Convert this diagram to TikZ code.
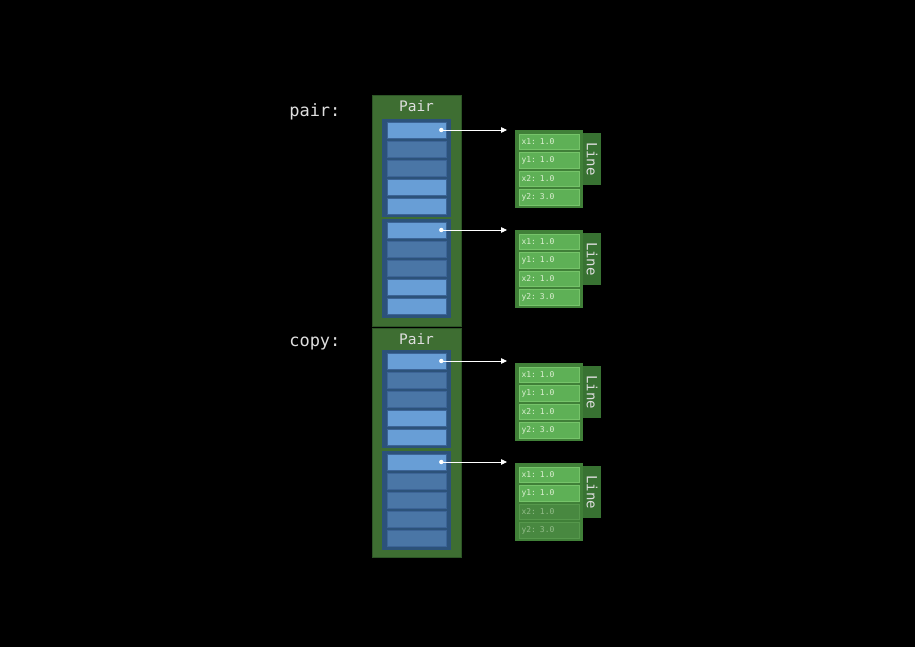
\documentclass[tikz,border=0pt]{standalone}
\usepackage{fontspec}
\setmonofont{DejaVu Sans Mono}
\usetikzlibrary{arrows.meta}

\definecolor{pairgreen}{RGB}{62,110,50}
\definecolor{pairedge}{RGB}{45,85,38}
\definecolor{groupblue}{RGB}{44,82,122}
\definecolor{rowlightblue}{RGB}{104,158,214}
\definecolor{rowdarkblue}{RGB}{74,118,166}
\definecolor{rowedge}{RGB}{60,100,150}
\definecolor{linegreen}{RGB}{64,128,56}
\definecolor{tabgreen}{RGB}{56,114,50}
\definecolor{fieldgreen}{RGB}{94,176,86}
\definecolor{fieldedge}{RGB}{118,196,106}
\definecolor{fadegreen}{RGB}{72,136,64}
\definecolor{fadeedge}{RGB}{86,152,76}
\definecolor{labelgray}{RGB}{222,222,222}
\definecolor{fieldtext}{RGB}{220,240,210}

\tikzset{
  box/.style={anchor=north west, inner sep=0pt, outer sep=0pt},
  pairbox/.style={box, fill=pairgreen, draw=pairedge, line width=0.8pt, minimum width=89pt},
  pairtitle/.style={text=labelgray, font=\ttfamily\fontsize{14.5}{14.5}\selectfont},
  groupbox/.style={box, fill=groupblue, minimum width=69pt},
  rowlight/.style={fill=rowlightblue, draw=rowedge, line width=0.6pt, minimum width=59pt, minimum height=16pt, inner sep=0pt},
  rowdark/.style={rowlight, fill=rowdarkblue},
  varlabel/.style={text=labelgray, anchor=east, font=\ttfamily\fontsize{17}{17}\selectfont},
  linebox/.style={box, fill=linegreen, minimum width=68pt, minimum height=78pt},
  linetab/.style={box, fill=tabgreen, minimum width=18pt, minimum height=52pt, text=labelgray,
    font=\ttfamily\fontsize{14}{14}\selectfont},
  field/.style={box, fill=fieldgreen, draw=fieldedge, line width=0.6pt, minimum width=60pt,
    minimum height=15.5pt, text width=55pt, inner xsep=2.5pt, align=left, text=fieldtext,
    font=\ttfamily\fontsize{8}{8}\selectfont},
  fieldfaded/.style={field, fill=fadegreen, draw=fadeedge, text=fieldtext!50!fadegreen},
  ptr/.style={draw=white, line width=0.8pt, -{Triangle[width=5.5pt,length=6pt]}},
}

\begin{document}
\begin{tikzpicture}[x=1pt,y=-1pt]
\useasboundingbox[fill=black] (0,0) rectangle (915,647);

% the two Pair values
\node[pairbox, minimum height=231pt] (pair) at (372,95) {};
\node[pairbox, minimum height=229pt] (copy) at (372,328) {};
\node[pairtitle] (pairtitle) at ([yshift=-11pt]pair.north) {Pair};
\node[pairtitle] (copytitle) at ([yshift=-11pt]copy.north) {Pair};
\node[varlabel] (pairlbl) at (344,112) {pair:};
\node[varlabel] (copylbl) at (344,344) {copy:};

% inline storage of each Line
\node[groupbox, minimum height=98pt] (pair-a) at (382,119) {};
\node[groupbox, minimum height=99pt] (pair-b) at (382,219) {};
\node[groupbox, minimum height=98pt] (copy-a) at (382,350) {};
\node[groupbox, minimum height=99pt] (copy-b) at (382,451) {};

\foreach \i/\s in {1/rowlight,2/rowdark,3/rowdark,4/rowlight,5/rowlight} {
  \node[\s] (pair-a\i) at (416.5,{130+19*(\i-1)}) {};
  \node[\s] (pair-b\i) at (416.5,{230+19*(\i-1)}) {};
  \node[\s] (copy-a\i) at (416.5,{361+19*(\i-1)}) {};
}
\foreach \i/\s in {1/rowlight,2/rowdark,3/rowdark,4/rowdark,5/rowdark}
  \node[\s] (copy-b\i) at (416.5,{462+19*(\i-1)}) {};

% Line objects
\foreach \n/\y/\fa/\fb in {1/130/field/field, 2/230/field/field, 3/363/field/field, 4/463/field/fieldfaded} {
  \node[linebox] (line\n) at (515,\y) {};
  \node[linetab] (tab\n) at ([yshift=-3pt]line\n.north east) {\rotatebox{-90}{Line}};
  \node[\fa] (line\n-x1) at ([xshift=4pt,yshift=-4pt]line\n.north west) {x1: 1.0};
  \node[\fa] (line\n-y1) at ([yshift=-3pt]line\n-x1.south west) {y1: 1.0};
  \node[\fb] (line\n-x2) at ([yshift=-3pt]line\n-y1.south west) {x2: 1.0};
  \node[\fb] (line\n-y2) at ([yshift=-3pt]line\n-x2.south west) {y2: 3.0};
  \coordinate (tgt\n) at ([xshift=-8pt]line\n.west);
}

% references
\foreach \r/\n in {pair-a1/1, pair-b1/2, copy-a1/3, copy-b1/4} {
  \coordinate (dot\n) at ([xshift=-5pt]\r.east);
  \fill[white] (dot\n) circle (2.2pt);
  \draw[ptr] (dot\n) -- (dot\n -| tgt\n);
}
\end{tikzpicture}
\end{document}
